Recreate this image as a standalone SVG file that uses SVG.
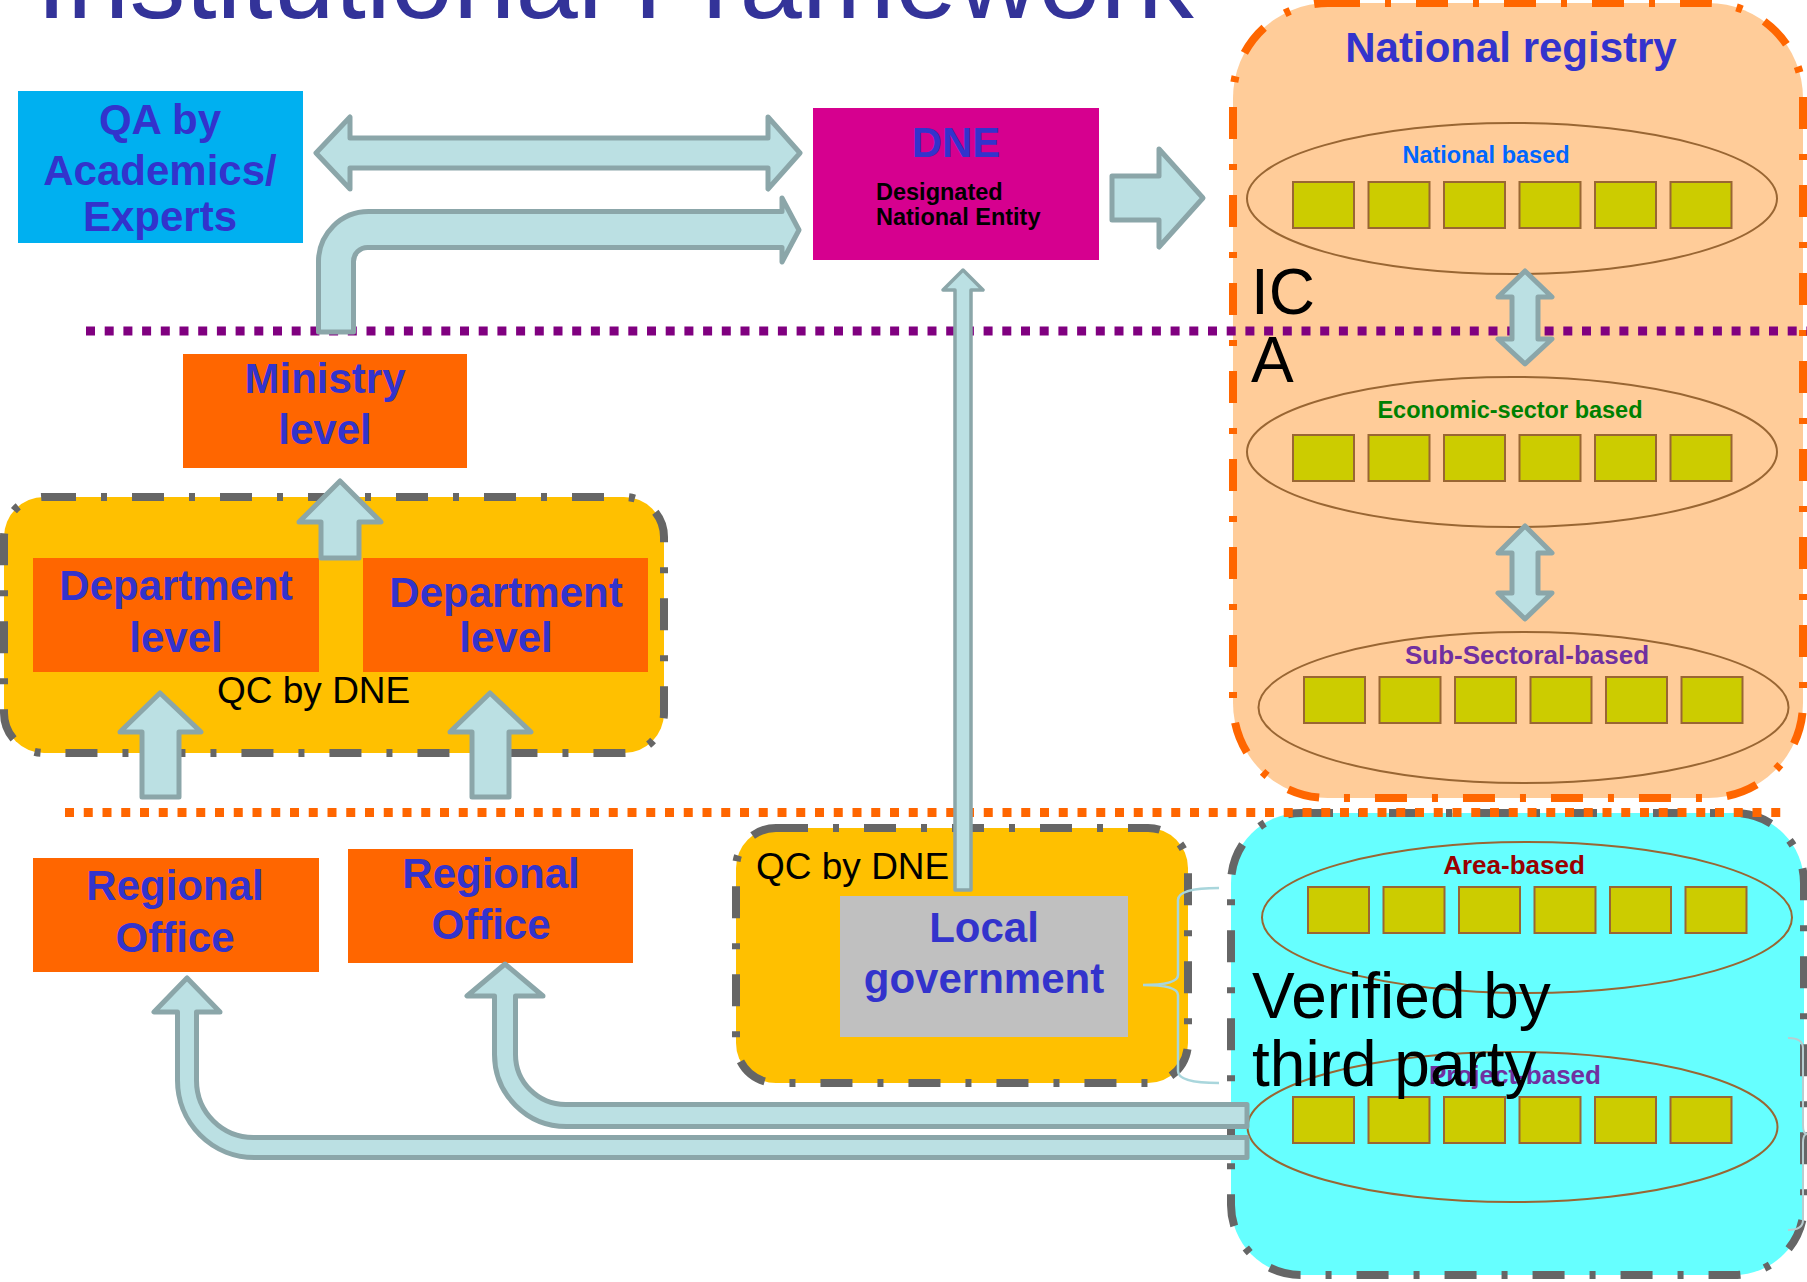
<svg xmlns="http://www.w3.org/2000/svg" width="1807" height="1282" viewBox="0 0 1807 1282">
<style>
.bt{font-family:"Liberation Sans",Arial,sans-serif;font-weight:bold;fill:#3333CC;text-anchor:middle}
.lbl{font-family:"Liberation Sans",Arial,sans-serif;font-weight:bold;font-size:23.5px;text-anchor:middle}
.lbl2{font-family:"Liberation Sans",Arial,sans-serif;font-weight:bold;font-size:26px;text-anchor:middle}
.reg{font-family:"Liberation Sans",Arial,sans-serif;fill:#000}
.org{fill:#FF6600}
.grp{stroke:#666666;stroke-width:8;stroke-dasharray:32 25 6 25;fill:#FFC000}
.ell{fill:none;stroke:#996633;stroke-width:2}
.sq{fill:#CCCC00;stroke:#996633;stroke-width:2}
.arr{fill:#BBE0E3;stroke:#8BA6A9;stroke-width:5;stroke-linejoin:round}
</style>
<rect width="1807" height="1282" fill="#FFFFFF"/>
<text x="36" y="18" font-family="Liberation Sans, Arial, sans-serif" font-size="112" fill="#333399">Institutional Framework</text>

<g id="national-registry">
<rect x="1233" y="3" width="570" height="795" rx="95" fill="#FFCC99" stroke="#FF6600" stroke-width="8" stroke-dasharray="32 25 6 25"/>
<text class="bt" x="1511" y="62" font-size="42">National registry</text>
<ellipse class="ell" cx="1512" cy="198.5" rx="265" ry="75.5"/>
<text class="lbl" x="1486" y="163" fill="#0066FF">National based</text>
<g class="sq"><rect x="1293" y="182" width="61" height="46"/><rect x="1368.5" y="182" width="61" height="46"/><rect x="1444" y="182" width="61" height="46"/><rect x="1519.5" y="182" width="61" height="46"/><rect x="1595" y="182" width="61" height="46"/><rect x="1670.5" y="182" width="61" height="46"/></g>
<ellipse class="ell" cx="1512" cy="452" rx="265" ry="75"/>
<text class="lbl" x="1510" y="418" fill="#008000">Economic-sector based</text>
<g class="sq"><rect x="1293" y="435" width="61" height="46"/><rect x="1368.5" y="435" width="61" height="46"/><rect x="1444" y="435" width="61" height="46"/><rect x="1519.5" y="435" width="61" height="46"/><rect x="1595" y="435" width="61" height="46"/><rect x="1670.5" y="435" width="61" height="46"/></g>
<ellipse class="ell" cx="1523.5" cy="707.5" rx="265" ry="75.5"/>
<text class="lbl2" x="1527" y="664" fill="#7030A0">Sub-Sectoral-based</text>
<g class="sq"><rect x="1304" y="677" width="61" height="46"/><rect x="1379.5" y="677" width="61" height="46"/><rect x="1455" y="677" width="61" height="46"/><rect x="1530.5" y="677" width="61" height="46"/><rect x="1606" y="677" width="61" height="46"/><rect x="1681.5" y="677" width="61" height="46"/></g>
<text class="reg" x="1251" y="314" font-size="64">IC</text>
<text class="reg" x="1251" y="382" font-size="64">A</text>
</g>

<g id="verified-group">
<rect x="1231" y="813" width="573" height="462" rx="70" fill="#66FFFF" stroke="#666666" stroke-width="8" stroke-dasharray="32 25 6 25"/>
<ellipse class="ell" cx="1527" cy="917.5" rx="265" ry="75.5"/>
<text class="lbl2" x="1514" y="874" fill="#990000">Area-based</text>
<g class="sq"><rect x="1308" y="887" width="61" height="46"/><rect x="1383.5" y="887" width="61" height="46"/><rect x="1459" y="887" width="61" height="46"/><rect x="1534.5" y="887" width="61" height="46"/><rect x="1610" y="887" width="61" height="46"/><rect x="1685.5" y="887" width="61" height="46"/></g>
<ellipse class="ell" cx="1512.5" cy="1127" rx="265" ry="75"/>
<text class="lbl2" x="1515" y="1084" fill="#7030A0">Project-based</text>
<g class="sq"><rect x="1293" y="1097" width="61" height="46"/><rect x="1368.5" y="1097" width="61" height="46"/><rect x="1444" y="1097" width="61" height="46"/><rect x="1519.5" y="1097" width="61" height="46"/><rect x="1595" y="1097" width="61" height="46"/><rect x="1670.5" y="1097" width="61" height="46"/></g>
<text class="reg" x="1252" y="1018" font-size="64">Verified by</text>
<text class="reg" x="1252" y="1086" font-size="64">third party</text>
<path d="M1788 1038 Q1803 1038 1803 1048 L1803 1125 Q1803 1134 1807 1134 M1807 1134 Q1803 1134 1803 1143 L1803 1220 Q1803 1230 1788 1230" fill="none" stroke="#B8CDD0" stroke-width="2"/>
</g>

<g id="qa">
<rect x="18" y="91" width="285" height="152" fill="#00B0F0"/>
<text class="bt" x="160" y="134" font-size="42">QA by</text>
<text class="bt" x="160" y="185" font-size="42">Academics/</text>
<text class="bt" x="160" y="231" font-size="42">Experts</text>
</g>

<g id="dne">
<rect x="813" y="108" width="286" height="152" fill="#D6008F"/>
<text class="bt" x="956" y="157" font-size="42">DNE</text>
<text x="876" y="200" font-family="Liberation Sans, Arial, sans-serif" font-weight="bold" font-size="23.5">Designated</text>
<text x="876" y="225" font-family="Liberation Sans, Arial, sans-serif" font-weight="bold" font-size="23.5">National Entity</text>
</g>

<g id="ministry">
<rect class="org" x="183" y="354" width="284" height="114"/>
<text class="bt" x="325" y="393" font-size="42">Ministry</text>
<text class="bt" x="325" y="444" font-size="42">level</text>
</g>

<g id="dept-group">
<rect class="grp" x="4" y="497" width="660" height="256" rx="40"/>
<text class="reg" x="217" y="703" font-size="37">QC by DNE</text>
</g>
<g id="dept-left">
<rect class="org" x="33" y="558" width="286" height="114"/>
<text class="bt" x="176" y="600" font-size="42">Department</text>
<text class="bt" x="176" y="652" font-size="42">level</text>
</g>
<g id="dept-right">
<rect class="org" x="363" y="558" width="285" height="114"/>
<text class="bt" x="506" y="607" font-size="42">Department</text>
<text class="bt" x="506" y="652" font-size="42">level</text>
</g>

<g id="regional-left">
<rect class="org" x="33" y="858" width="286" height="114"/>
<text class="bt" x="175" y="900" font-size="42">Regional</text>
<text class="bt" x="175" y="952" font-size="42">Office</text>
</g>
<g id="regional-right">
<rect class="org" x="348" y="849" width="285" height="114"/>
<text class="bt" x="491" y="888" font-size="42">Regional</text>
<text class="bt" x="491" y="939" font-size="42">Office</text>
</g>

<g id="local-group">
<rect class="grp" x="736" y="828" width="452" height="255" rx="40"/>
<text class="reg" x="756" y="879" font-size="37">QC by DNE</text>
</g>
<g id="local-government">
<rect x="840" y="896" width="288" height="141" fill="#C0C0C0"/>
<text class="bt" x="984" y="942" font-size="42">Local</text>
<text class="bt" x="984" y="993" font-size="42">government</text>
<path d="M1219 888 Q1178 888 1178 900 L1178 975 Q1178 985 1143 985 Q1178 985 1178 995 L1178 1071 Q1178 1083 1219 1083" fill="none" stroke="#A9D6DC" stroke-width="2.5"/>
</g>

<g id="dividers">
<line x1="86" y1="331" x2="1807" y2="331" stroke="#800080" stroke-width="9" stroke-dasharray="9 9.7"/>
<line x1="65" y1="812.5" x2="1786" y2="812.5" stroke="#FF6600" stroke-width="9" stroke-dasharray="9 9.75"/>
</g>

<g id="connectors">
<path class="arr" d="M316 153 L350 117 L350 138 L768 138 L768 117 L800 153 L768 189 L768 168 L350 168 L350 189 Z"/>
<path class="arr" d="M318.5 332 L318.5 261.5 A50 50 0 0 1 368.5 211.5 L782 211.5 L782 198 L799 230 L782 262 L782 247.5 L367.5 247.5 A14 14 0 0 0 353.5 261.5 L353.5 332 Z"/>
<path class="arr" d="M1112 176 L1159 176 L1159 149 L1203 198 L1159 247 L1159 220 L1112 220 Z"/>
<path class="arr" style="stroke-width:3.5" d="M955 890 L955 290 L943 290 L963 270 L983 290 L971 290 L971 890 Z"/>
<path class="arr" d="M321 558 L321 522 L299 522 L340 481 L381 522 L359 522 L359 558 Z"/>
<path class="arr" d="M142 797 L142 732 L120 732 L160 693 L201 732 L179 732 L179 797 Z"/>
<path class="arr" d="M472 797 L472 732 L450 732 L490 693 L531 732 L509 732 L509 797 Z"/>
<path class="arr" d="M1247 1137.5 L254 1137.5 A57 57 0 0 1 196.5 1080.5 L196.5 1012 L220 1012 L187 978 L154 1012 L177.5 1012 L177.5 1080.5 A77 77 0 0 0 254.5 1157.5 L1247 1157.5 Z"/>
<path class="arr" d="M1247 1104.5 L565.5 1104.5 A50 50 0 0 1 515.5 1054.5 L515.5 996 L543 996 L505 964 L467 996 L494.5 996 L494.5 1054.5 A72 72 0 0 0 566.5 1126.5 L1247 1126.5 Z"/>
<path class="arr" d="M1525 271 L1552 297 L1538 297 L1538 339 L1552 339 L1525 364 L1498 339 L1512 339 L1512 297 L1498 297 Z"/>
<path class="arr" d="M1525 526 L1552 553 L1538 553 L1538 593 L1552 593 L1525 619 L1498 593 L1512 593 L1512 553 L1498 553 Z"/>
</g>
</svg>
